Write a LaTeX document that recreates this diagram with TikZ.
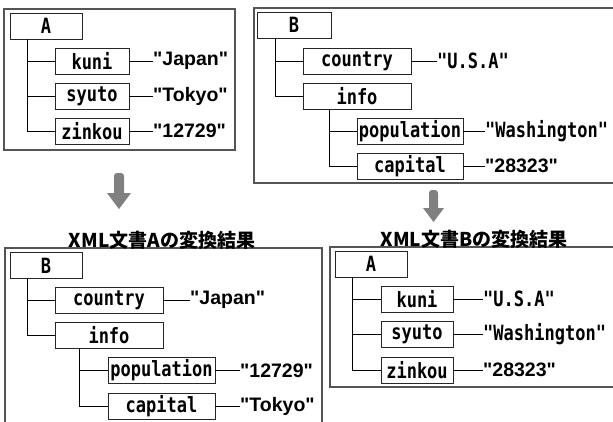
\documentclass[tikz,border=0pt]{standalone}
\usepackage{fontspec}
\newfontfamily\monofont[FakeStretch=0.81]{DejaVu Sans Mono}
\newfontfamily\propfont{Liberation Sans}
\newfontfamily\cjkfont{Noto Sans CJK JP}
\definecolor{panelc}{RGB}{85,85,85}
\definecolor{arrowc}{RGB}{128,128,128}
\begin{document}
\begin{tikzpicture}[x=1pt,y=-1pt,
  panel/.style={draw=panelc,line width=1.2pt},
  elem/.style={draw=black!85,line width=0.8pt,minimum height=26pt,inner sep=0pt,
    font=\monofont\bfseries\fontsize{21}{21}\selectfont},
  mval/.style={anchor=west,inner sep=0pt,font=\monofont\bfseries\fontsize{21}{21}\selectfont},
  pval/.style={anchor=west,inner sep=0pt,font=\propfont\bfseries\fontsize{19.5}{19.5}\selectfont},
  conn/.style={draw=black,line width=0.8pt},
  ttl/.style={inner sep=0pt,anchor=south,font=\cjkfont\bfseries\fontsize{19}{19}\selectfont},
  bigarrow/.style={fill=arrowc}
]
\useasboundingbox (0,0) rectangle (613,421);
\fill[white] (0,0) rectangle (613,421);

% ---------- panel A (top left)
\draw[panel] (4,9) rectangle (235,150);
\node[elem,minimum width=72pt] (A1) at (46,26) {A};
\node[elem,minimum width=74pt] (kuni1) at (92,61) {kuni};
\node[elem,minimum width=74pt] (syuto1) at (92,96) {syuto};
\node[elem,minimum width=74pt] (zinkou1) at (92,131) {zinkou};
\node[pval] (v11) at (153,61) {"Japan"};
\node[pval] (v12) at (153,96) {"Tokyo"};
\node[pval] (v13) at (153,131) {"12729"};
\draw[conn] ([xshift=18pt]A1.south west) |- (kuni1.west);
\draw[conn] ([xshift=18pt]A1.south west) |- (syuto1.west);
\draw[conn] ([xshift=18pt]A1.south west) |- (zinkou1.west);
\draw[conn] (kuni1.east) -- (v11.west);
\draw[conn] (syuto1.east) -- (v12.west);
\draw[conn] (zinkou1.east) -- (v13.west);

% ---------- panel B (top right)
\draw[panel] (254,8) rectangle (618,183);
\node[elem,minimum width=74pt] (B2) at (294,25) {B};
\node[elem,minimum width=108pt] (country2) at (357,61) {country};
\node[elem,minimum width=108pt] (info2) at (357,96) {info};
\node[elem,minimum width=106pt] (pop2) at (410,131) {population};
\node[elem,minimum width=106pt] (cap2) at (410,166) {capital};
\node[mval] (v21) at (437,61) {"U.S.A"};
\node[mval] (v22) at (485,131) {"Washington"};
\node[pval] (v23) at (485,166) {"28323"};
\draw[conn] ([xshift=19pt]B2.south west) |- (country2.west);
\draw[conn] ([xshift=19pt]B2.south west) |- (info2.west);
\draw[conn] ([xshift=27pt]info2.south west) |- (pop2.west);
\draw[conn] ([xshift=27pt]info2.south west) |- (cap2.west);
\draw[conn] (country2.east) -- (v21.west);
\draw[conn] (pop2.east) -- (v22.west);
\draw[conn] (cap2.east) -- (v23.west);

% ---------- arrows
\fill[bigarrow] (119,209) -- (107,193) -- (114,193) [rounded corners=3pt] -- (114,173) -- (124,173) [sharp corners] -- (124,193) -- (131,193) -- cycle;
\fill[bigarrow] (433.5,222) -- (423,208) -- (429,208) [rounded corners=3pt] -- (429,190) -- (438,190) [sharp corners] -- (438,208) -- (444,208) -- cycle;

% ---------- panel bottom left
\draw[panel] (5,248) rectangle (322,430);
\node[ttl] (t3) at (162,250) {XML文書Aの変換結果};
\node[elem,minimum width=72pt] (B3) at (46,265.5) {B};
\node[elem,minimum width=108pt] (country3) at (109,300) {country};
\node[elem,minimum width=108pt] (info3) at (109,335) {info};
\node[elem,minimum width=107pt] (pop3) at (161.5,370.5) {population};
\node[elem,minimum width=107pt] (cap3) at (161.5,406) {capital};
\node[pval] (v31) at (190,300) {"Japan"};
\node[pval] (v32) at (240,370.5) {"12729"};
\node[pval] (v33) at (240,406) {"Tokyo"};
\draw[conn] ([xshift=18pt]B3.south west) |- (country3.west);
\draw[conn] ([xshift=18pt]B3.south west) |- (info3.west);
\draw[conn] ([xshift=25pt]info3.south west) |- (pop3.west);
\draw[conn] ([xshift=25pt]info3.south west) |- (cap3.west);
\draw[conn] (country3.east) -- (v31.west);
\draw[conn] (pop3.east) -- (v32.west);
\draw[conn] (cap3.east) -- (v33.west);

% ---------- panel bottom right
\draw[panel] (330,247) rectangle (618,387);
\node[ttl] (t4) at (474,249) {XML文書Bの変換結果};
\node[elem,minimum width=72pt] (A4) at (371,264) {A};
\node[elem,minimum width=72pt] (kuni4) at (417,299) {kuni};
\node[elem,minimum width=72pt] (syuto4) at (417,334.5) {syuto};
\node[elem,minimum width=72pt] (zinkou4) at (417,370) {zinkou};
\node[mval] (v41) at (483,299) {"U.S.A"};
\node[mval] (v42) at (483,334.5) {"Washington"};
\node[pval] (v43) at (483,370) {"28323"};
\draw[conn] ([xshift=18pt]A4.south west) |- (kuni4.west);
\draw[conn] ([xshift=18pt]A4.south west) |- (syuto4.west);
\draw[conn] ([xshift=18pt]A4.south west) |- (zinkou4.west);
\draw[conn] (kuni4.east) -- (v41.west);
\draw[conn] (syuto4.east) -- (v42.west);
\draw[conn] (zinkou4.east) -- (v43.west);
\end{tikzpicture}
\end{document}
